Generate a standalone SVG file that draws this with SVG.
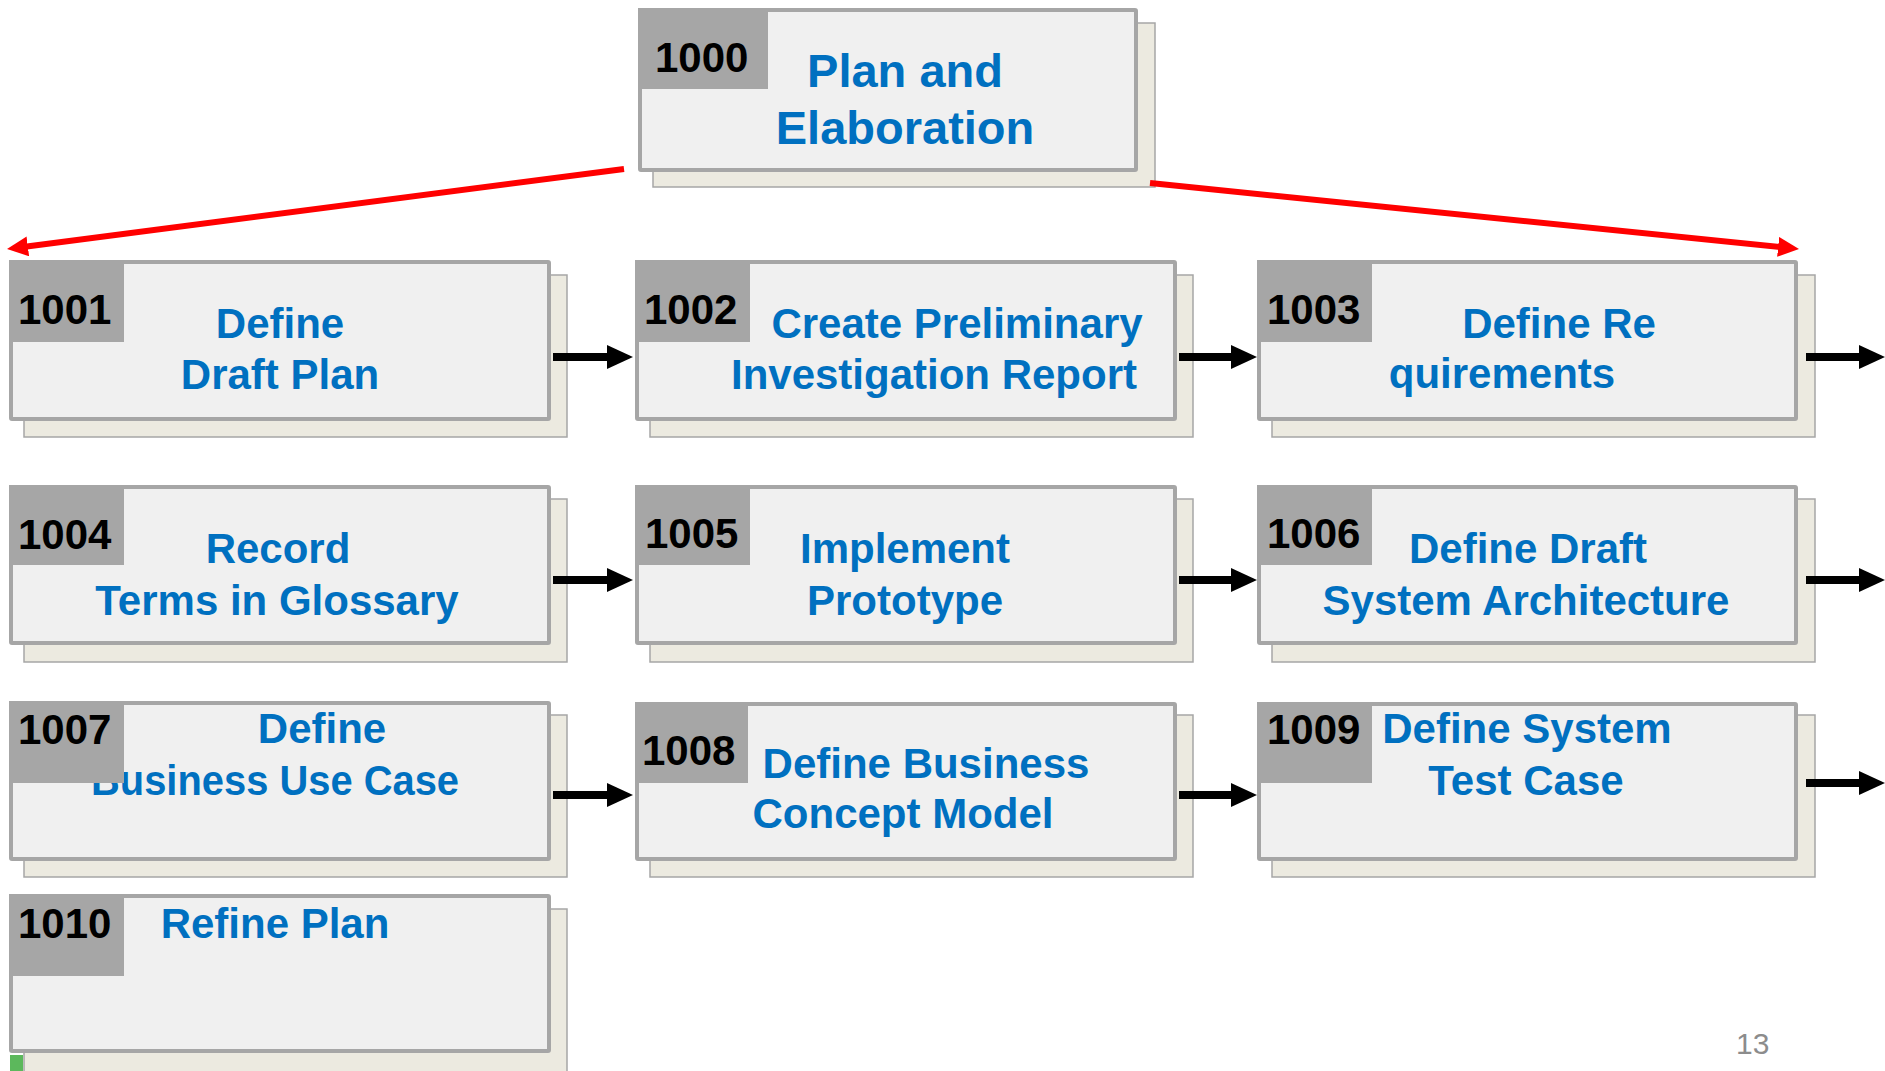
<svg xmlns="http://www.w3.org/2000/svg" width="1885" height="1071" viewBox="0 0 1885 1071">
<style>
.shadow{fill:#eceae0;stroke:#a6a6a6;stroke-width:1.5}
.box{fill:#f0f0f0;stroke:#a6a6a6;stroke-width:4}
.num{fill:#a6a6a6}
.numt{font-family:"Liberation Sans",Arial,sans-serif;font-weight:bold;font-size:42px;fill:#000}
.t{font-family:"Liberation Sans",Arial,sans-serif;font-weight:bold;font-size:42px;fill:#0070c0;text-anchor:middle}
.big{font-size:47px}
.red{stroke:#ff0000;stroke-width:6;fill:none;marker-end:url(#rh)}
.blk{stroke:#000;stroke-width:8;fill:none;marker-end:url(#bh)}
.pg{font-family:"Liberation Sans",Arial,sans-serif;font-size:30px;fill:#8c8c8c}
</style>
<defs>
<marker id="rh" markerUnits="userSpaceOnUse" markerWidth="21" markerHeight="20" refX="5" refY="10" orient="auto" viewBox="0 0 21 20"><path d="M0,0 L21,10 L0,20 z" fill="#ff0000"/></marker>
<marker id="bh" markerUnits="userSpaceOnUse" markerWidth="26" markerHeight="24" refX="6" refY="12" orient="auto" viewBox="0 0 26 24"><path d="M0,0 L26,12 L0,24 z" fill="#000"/></marker>
</defs>
<rect width="1885" height="1071" fill="#fff"/>

<g id="n1000">
<rect class="shadow" x="653" y="23" width="502" height="164"/>
<rect class="box" x="640" y="10" width="496" height="160" rx="1"/>
<text class="t big" x="905" y="87">Plan and</text>
<text class="t big" x="905" y="144">Elaboration</text>
<rect class="num" x="638" y="8" width="130" height="81"/>
<text class="numt" x="655" y="72">1000</text>
</g>

<g id="n1001">
<rect class="shadow" x="24" y="275" width="543" height="162"/>
<rect class="box" x="11" y="262" width="538" height="157" rx="1"/>
<text class="t" x="280" y="338">Define</text>
<text class="t" x="280" y="389">Draft Plan</text>
<rect class="num" x="9" y="260" width="115" height="82"/>
<text class="numt" x="18" y="324">1001</text>
</g>

<g id="n1002">
<rect class="shadow" x="650" y="275" width="543" height="162"/>
<rect class="box" x="637" y="262" width="538" height="157" rx="1"/>
<text class="t" x="957" y="338">Create Preliminary</text>
<text class="t" x="934" y="389">Investigation Report</text>
<rect class="num" x="635" y="260" width="115" height="82"/>
<text class="numt" x="644" y="324">1002</text>
</g>

<g id="n1003">
<rect class="shadow" x="1272" y="275" width="543" height="162"/>
<rect class="box" x="1259" y="262" width="537" height="157" rx="1"/>
<text class="t" x="1559" y="338">Define Re</text>
<text class="t" x="1502" y="388">quirements</text>
<rect class="num" x="1257" y="260" width="115" height="82"/>
<text class="numt" x="1267" y="324">1003</text>
</g>

<g id="n1004">
<rect class="shadow" x="24" y="499" width="543" height="163"/>
<rect class="box" x="11" y="487" width="538" height="156" rx="1"/>
<text class="t" x="278" y="563">Record</text>
<text class="t" x="277" y="615">Terms in Glossary</text>
<rect class="num" x="9" y="485" width="115" height="80"/>
<text class="numt" x="18" y="549">1004</text>
</g>

<g id="n1005">
<rect class="shadow" x="650" y="499" width="543" height="163"/>
<rect class="box" x="637" y="487" width="538" height="156" rx="1"/>
<text class="t" x="905" y="563">Implement</text>
<text class="t" x="905" y="615">Prototype</text>
<rect class="num" x="635" y="485" width="115" height="80"/>
<text class="numt" x="645" y="548">1005</text>
</g>

<g id="n1006">
<rect class="shadow" x="1272" y="499" width="543" height="163"/>
<rect class="box" x="1259" y="487" width="537" height="156" rx="1"/>
<text class="t" x="1528" y="563">Define Draft</text>
<text class="t" x="1526" y="615">System Architecture</text>
<rect class="num" x="1257" y="485" width="115" height="80"/>
<text class="numt" x="1267" y="548">1006</text>
</g>

<g id="n1007">
<rect class="shadow" x="24" y="715" width="543" height="162"/>
<rect class="box" x="11" y="703" width="538" height="156" rx="1"/>
<text class="t" x="322" y="743">Define</text>
<text class="t" x="275" y="795" textLength="368" lengthAdjust="spacingAndGlyphs">Business Use Case</text>
<rect class="num" x="9" y="701" width="115" height="82"/>
<text class="numt" x="18" y="744">1007</text>
</g>

<g id="n1008">
<rect class="shadow" x="650" y="715" width="543" height="162"/>
<rect class="box" x="637" y="704" width="538" height="155" rx="1"/>
<text class="t" x="926" y="778">Define Business</text>
<text class="t" x="903" y="828">Concept Model</text>
<rect class="num" x="635" y="702" width="113" height="81"/>
<text class="numt" x="642" y="765">1008</text>
</g>

<g id="n1009">
<rect class="shadow" x="1272" y="715" width="543" height="162"/>
<rect class="box" x="1259" y="704" width="537" height="155" rx="1"/>
<text class="t" x="1527" y="743">Define System</text>
<text class="t" x="1526" y="795">Test Case</text>
<rect class="num" x="1257" y="702" width="115" height="81"/>
<text class="numt" x="1267" y="744">1009</text>
</g>

<g id="n1010">
<rect class="shadow" x="24" y="909" width="543" height="170"/>
<rect class="box" x="11" y="896" width="538" height="155" rx="1"/>
<text class="t" x="275" y="938">Refine Plan</text>
<rect class="num" x="9" y="894" width="115" height="82"/>
<text class="numt" x="18" y="938">1010</text>
<rect x="10" y="1055" width="13" height="16" fill="#5cb85c"/>
</g>

<g id="connectors">
<line class="red" x1="624" y1="169" x2="22.9" y2="247"/>
<line class="red" x1="1150" y1="183" x2="1783.1" y2="247.4"/>
<line class="blk" x1="553" y1="357" x2="613" y2="357"/>
<line class="blk" x1="1179" y1="357" x2="1237" y2="357"/>
<line class="blk" x1="1806" y1="357" x2="1865" y2="357"/>
<line class="blk" x1="553" y1="580" x2="613" y2="580"/>
<line class="blk" x1="1179" y1="580" x2="1237" y2="580"/>
<line class="blk" x1="1806" y1="580" x2="1865" y2="580"/>
<line class="blk" x1="553" y1="795" x2="613" y2="795"/>
<line class="blk" x1="1179" y1="795" x2="1237" y2="795"/>
<line class="blk" x1="1806" y1="783" x2="1865" y2="783"/>
</g>

<text class="pg" x="1736" y="1054">13</text>
</svg>
